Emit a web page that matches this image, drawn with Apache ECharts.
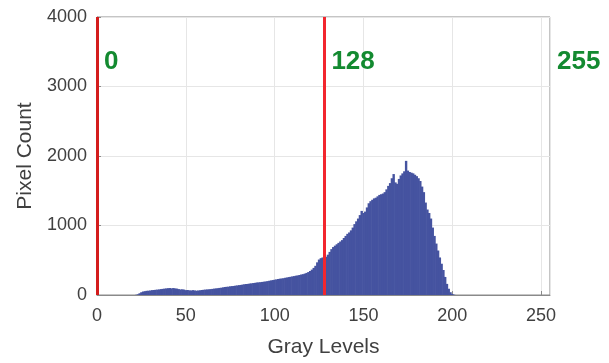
<!DOCTYPE html>
<html lang="en">
<head>
    <meta charset="UTF-8">
    <title>Histogram</title>
    <script src="https://cdn.jsdelivr.net/npm/echarts@6/dist/echarts.min.js"></script>
    <style>
        body { margin: 0; background: #fff; }
        #main { width: 609px; height: 363px; }
    </style>
</head>
<body>
<div id="main"></div>
<script>
    // pixel counts per gray level, starting at level 22 (everything below is 0)
    var startLevel = 22;
    var counts = [
        3, 10, 25, 40, 50, 55, 60, 62, 65, 70,            // 22-31
        72, 75, 78, 80, 85, 88, 92, 95, 98, 100,          // 32-41
        96, 100, 95, 92, 85, 80, 82, 78, 70, 72,          // 42-51
        68, 65, 70, 66, 62, 65, 68, 72, 75, 78,           // 52-61
        80, 82, 85, 88, 92, 95, 98, 102, 105, 110,        // 62-71
        115, 118, 120, 125, 128, 130, 135, 138, 142, 145, // 72-81
        150, 155, 158, 160, 165, 168, 172, 175, 180, 182, // 82-91
        185, 188, 192, 195, 200, 205, 210, 215, 220, 225, // 92-101
        230, 235, 238, 242, 248, 252, 258, 262, 268, 272, // 102-111
        278, 282, 288, 295, 300, 308, 318, 330, 345, 365, // 112-121
        390, 420, 470, 510, 530, 540, 545, 550, 580, 620, // 122-131
        660, 690, 710, 730, 750, 770, 790, 820, 850, 880, // 132-141
        900, 930, 970, 1020, 1060, 1100, 1150, 1210, 1180, 1200, // 142-151
        1260, 1320, 1350, 1370, 1390, 1400, 1420, 1440, 1450, 1460, // 152-161
        1480, 1520, 1570, 1610, 1680, 1740, 1620, 1600, 1670, 1720, // 162-171
        1750, 1780, 1930, 1790, 1770, 1760, 1750, 1730, 1710, 1680, // 172-181
        1640, 1560, 1480, 1330, 1230, 1180, 1100, 970, 850, 740,    // 182-191
        640, 540, 450, 360, 260, 160, 90, 40, 15, 5                 // 192-201
    ];
    var markerLevels = [0, 128];
    var markerColors = ['#d41c1c', '#f2262e'];
    var markerTexts = ['0', '128', '255'];
    var markerTextLevels = [0, 128, 255];
    var markerTextY = 3360;

    var barData = [];
    for (var i = 0; i < counts.length; i++) {
        barData.push([startLevel + i, counts[i]]);
    }
    var textData = [];
    for (var j = 0; j < markerTexts.length; j++) {
        textData.push({value: [markerTextLevels[j], markerTextY], name: markerTexts[j]});
    }
    var lineData = [];
    for (var k = 0; k < markerLevels.length; k++) {
        lineData.push({xAxis: markerLevels[k], lineStyle: {color: markerColors[k]}});
    }

    var font = 'Liberation Sans, Arial, sans-serif';
    var axisText = {color: '#404040', fontSize: 18, fontFamily: font};

    var myChart = echarts.init(document.getElementById('main'));
    var option = {
        animation: false,
        grid: {
            left: 97, right: 59, top: 17, bottom: 65,
            show: true, borderColor: '#8a8a8a', borderWidth: 1
        },
        xAxis: {
            type: 'value',
            min: 0, max: 255, interval: 50,
            name: 'Gray Levels',
            nameLocation: 'middle',
            nameGap: 42,
            nameTextStyle: {color: '#404040', fontSize: 21, fontFamily: font},
            axisLine: {show: true, lineStyle: {color: '#8a8a8a'}},
            axisTick: {show: true, inside: true, length: 4, lineStyle: {color: '#8a8a8a'}},
            axisLabel: Object.assign({margin: 12}, axisText),
            splitLine: {show: true, lineStyle: {color: '#e6e6e6'}}
        },
        yAxis: {
            type: 'value',
            min: 0, max: 4000, interval: 1000,
            name: 'Pixel Count',
            nameLocation: 'middle',
            nameGap: 56,
            nameTextStyle: {color: '#404040', fontSize: 21, fontFamily: font},
            axisLine: {show: true, lineStyle: {color: '#8a8a8a'}},
            axisTick: {show: true, inside: true, length: 4, lineStyle: {color: '#8a8a8a'}},
            axisLabel: Object.assign({margin: 10, formatter: function (v) { return String(v); }}, axisText),
            splitLine: {show: true, lineStyle: {color: '#e6e6e6'}}
        },
        series: [
            {
                type: 'bar',
                data: barData,
                barWidth: 2.4,
                itemStyle: {color: '#4553a0'},
                markLine: {
                    symbol: 'none',
                    silent: true,
                    label: {show: false},
                    lineStyle: {width: 3, type: 'solid'},
                    data: lineData
                }
            },
            {
                type: 'scatter',
                data: textData,
                symbolSize: 0,
                clip: false,
                silent: true,
                itemStyle: {opacity: 1},
                label: {
                    show: true,
                    position: 'right',
                    distance: 7,
                    formatter: '{b}',
                    color: '#138a30',
                    opacity: 1,
                    fontSize: 26,
                    fontWeight: 'bold',
                    fontFamily: font
                }
            }
        ]
    };
    myChart.setOption(option);
</script>
</body>
</html>
